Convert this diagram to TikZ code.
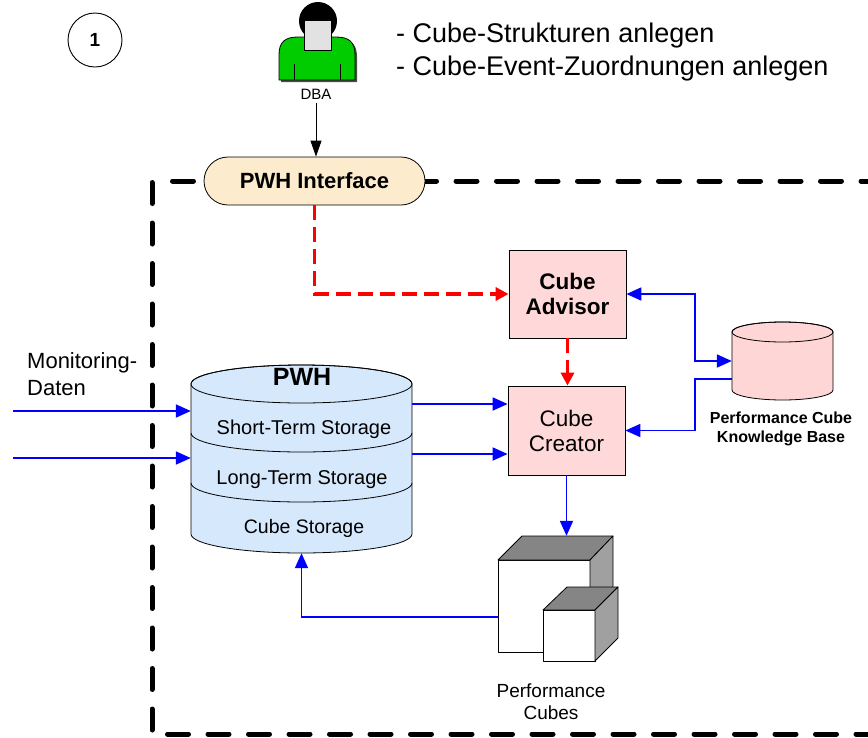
\documentclass[tikz,border=0pt]{standalone}
\usepackage{fontspec}
\setmainfont{Liberation Sans}
\usetikzlibrary{arrows.meta}

\definecolor{ifacefill}{HTML}{FCEBCD}
\definecolor{boxfill}{HTML}{FFD9D9}
\definecolor{storefill}{HTML}{D6E8FC}
\definecolor{kbfill}{HTML}{FFD6D6}
\definecolor{persongreen}{HTML}{00CC00}
\definecolor{facegray}{HTML}{E2E2E2}
\definecolor{flowblue}{HTML}{0000FF}
\definecolor{flowred}{HTML}{FF0000}
\definecolor{cubetop}{HTML}{858585}
\definecolor{cubeside}{HTML}{A0A0A0}

\begin{document}
\begin{tikzpicture}[x=1pt,y=1pt,
  fs/.style={font=\fontsize{#1}{#1}\selectfont},
  fsb/.style={font=\bfseries\fontsize{#1}{#1}\selectfont},
  outline/.style={draw=black,line width=0.8pt},
  procbox/.style={outline,fill=boxfill,minimum width=117pt,minimum height=88pt,
    inner sep=0pt,align=center},
  blueflow/.style={draw=flowblue,line width=1.8pt,
    -{Triangle[length=15pt,width=13pt]}},
  redflow/.style={draw=flowred,line width=3.5pt,dash pattern=on 15pt off 7pt,
    -{Triangle[length=13pt,width=13pt]}},
  boundary/.style={draw=black,line width=5pt,line cap=round,
    dash pattern=on 21pt off 19.5pt},
  cubeface/.style={outline,line join=round},
]
\useasboundingbox (0,0) rectangle (868,-737);

% system boundary (dashed, open to the right)
\draw[boundary] (152,-182.5) -- (152,-736);
\draw[boundary] (172.5,-181) -- (880,-181);
\draw[boundary] (167.5,-734) -- (880,-734);

% step number
\node[circle,draw,line width=0.9pt,minimum size=54pt,inner sep=0pt,fsb=19] (step) at (95,-40) {1};

% DBA figure
\fill[black!70] (281,-82) -- (281,-57) .. controls (281,-44) and (287,-39) .. (300,-39)
  -- (338,-39) .. controls (351,-39) and (357,-44) .. (357,-57) -- (357,-82) -- cycle;
\draw[outline,fill=persongreen] (279,-80) -- (279,-55) .. controls (279,-42) and (285,-37) .. (298,-37)
  -- (336,-37) .. controls (349,-37) and (355,-42) .. (355,-55) -- (355,-80) -- cycle;
\draw[line width=0.8pt] (294,-64) -- (294,-80) (340,-64) -- (340,-80);
\fill[black] (318,-21) ellipse[x radius=19,y radius=19];
\draw[outline,fill=facegray] (304,-20) -- (331,-20) -- (331,-50) -- (304,-50) -- cycle;
\node[fs=15] (dba) at (316,-94) {DBA};

% task list
\node[fs=27,anchor=base west,inner sep=0pt] (task1) at (396,-42) {- Cube-Strukturen anlegen};
\node[fs=27,anchor=base west,inner sep=0pt] (task2) at (396,-75) {- Cube-Event-Zuordnungen anlegen};

% PWH interface
\node[outline,rounded corners=24pt,fill=ifacefill,minimum width=221pt,minimum height=48pt,
  inner sep=0pt,fsb=22] (iface) at (314.5,-181) {PWH Interface};
\draw[line width=0.8pt,-{Triangle[length=16pt,width=11pt]}] (dba.south) -- (dba.south |- iface.north);

% Cube advisor / creator
\node[procbox,font=\bfseries\fontsize{22.5}{25}\selectfont] (advisor) at (567.5,-294) {Cube\\Advisor};
\node[procbox,font=\fontsize{22.5}{25}\selectfont,minimum height=89pt] (creator) at (566.5,-430.5) {Cube\\Creator};

% PWH storage cylinder
\node[minimum width=221pt,minimum height=188pt,inner sep=0pt] (pwh) at (301.5,-459) {};
\draw[outline,fill=storefill] (191,-384) -- (191,-534)
  arc[start angle=180,end angle=360,x radius=110.5,y radius=19] -- (412,-384)
  arc[start angle=0,end angle=180,x radius=110.5,y radius=19] -- cycle;
\draw[outline] (301.5,-384) ellipse[x radius=110.5,y radius=19];
\draw[outline] (191,-433) arc[start angle=180,end angle=360,x radius=110.5,y radius=19];
\draw[outline] (191,-483) arc[start angle=180,end angle=360,x radius=110.5,y radius=19];
\node[fsb=25,anchor=base,inner sep=0pt] (pwhtitle) at (302,-385) {PWH};
\node[fs=20,anchor=base,inner sep=0pt] (shortterm) at (304,-434) {Short-Term Storage};
\node[fs=20,anchor=base,inner sep=0pt] (longterm) at (302,-484) {Long-Term Storage};
\node[fs=19.5,anchor=base,inner sep=0pt] (cubestore) at (304,-533) {Cube Storage};

% knowledge base cylinder
\node[minimum width=101pt,minimum height=78pt,inner sep=0pt] (kb) at (782.5,-361) {};
\draw[outline,fill=kbfill] (732,-332) -- (732,-390)
  arc[start angle=180,end angle=360,x radius=50.5,y radius=10] -- (833,-332)
  arc[start angle=0,end angle=180,x radius=50.5,y radius=10] -- cycle;
\draw[outline] (782.5,-332) ellipse[x radius=50.5,y radius=10];
\node[fsb=16,anchor=base,inner sep=0pt] (kblabel1) at (781,-423) {Performance Cube};
\node[fsb=16,anchor=base,inner sep=0pt] (kblabel2) at (781,-442) {Knowledge Base};

% performance cubes
\node[minimum width=120pt,minimum height=125pt,inner sep=0pt] (cubes) at (558,-598.5) {};
\draw[cubeface,fill=white] (498,-560) rectangle (590,-652);
\draw[cubeface,fill=cubetop] (498,-560) -- (522,-536) -- (613,-536) -- (590,-560) -- cycle;
\draw[cubeface,fill=cubeside] (590,-560) -- (613,-536) -- (613,-628) -- (590,-652) -- cycle;
\draw[cubeface,fill=white] (543,-610) rectangle (595,-661);
\draw[cubeface,fill=cubetop] (543,-610) -- (567,-587) -- (618,-587) -- (595,-610) -- cycle;
\draw[cubeface,fill=cubeside] (595,-610) -- (618,-587) -- (618,-638) -- (595,-661) -- cycle;
\node[fs=19,anchor=base,inner sep=0pt] (cubelabel1) at (551,-697) {Performance};
\node[fs=19,anchor=base,inner sep=0pt] (cubelabel2) at (551,-719) {Cubes};

% monitoring input
\node[fs=22,anchor=base west,inner sep=0pt] (mon1) at (27,-368) {Monitoring-};
\node[fs=22,anchor=base west,inner sep=0pt] (mon2) at (27,-395) {Daten};
\coordinate (in1) at (13,-411);
\coordinate (in2) at (13,-458);
\draw[blueflow] (in1) -- (in1 -| pwh.west);
\draw[blueflow] (in2) -- (in2 -| pwh.west);

% storage to creator
\coordinate (st1) at (412,-404);
\coordinate (st2) at (412,-454);
\draw[blueflow] (st1) -- (st1 -| creator.west);
\draw[blueflow] (st2) -- (st2 -| creator.west);

% creator to cubes, cubes back to storage
\draw[blueflow] (creator.south) -- (creator.south |- cubes.north);
\coordinate (cubeout) at (498,-617);
\draw[blueflow] (cubeout) -| (pwh.south);

% knowledge base links
\coordinate (kbbus) at (695,-300);
\coordinate (kbout) at (732,-379);
\draw[blueflow,{Triangle[length=15pt,width=13pt]}-{Triangle[length=15pt,width=13pt]}]
  (advisor.east) -| (kbbus |- kb.west) -- (kb.west);
\draw[blueflow] (kbout) -| (kbbus |- creator.east) -- (creator.east);

% interface to advisor to creator
\draw[redflow] (iface.south) |- (advisor.west);
\draw[redflow] (advisor.south) -- (advisor.south |- creator.north);
\end{tikzpicture}
\end{document}
